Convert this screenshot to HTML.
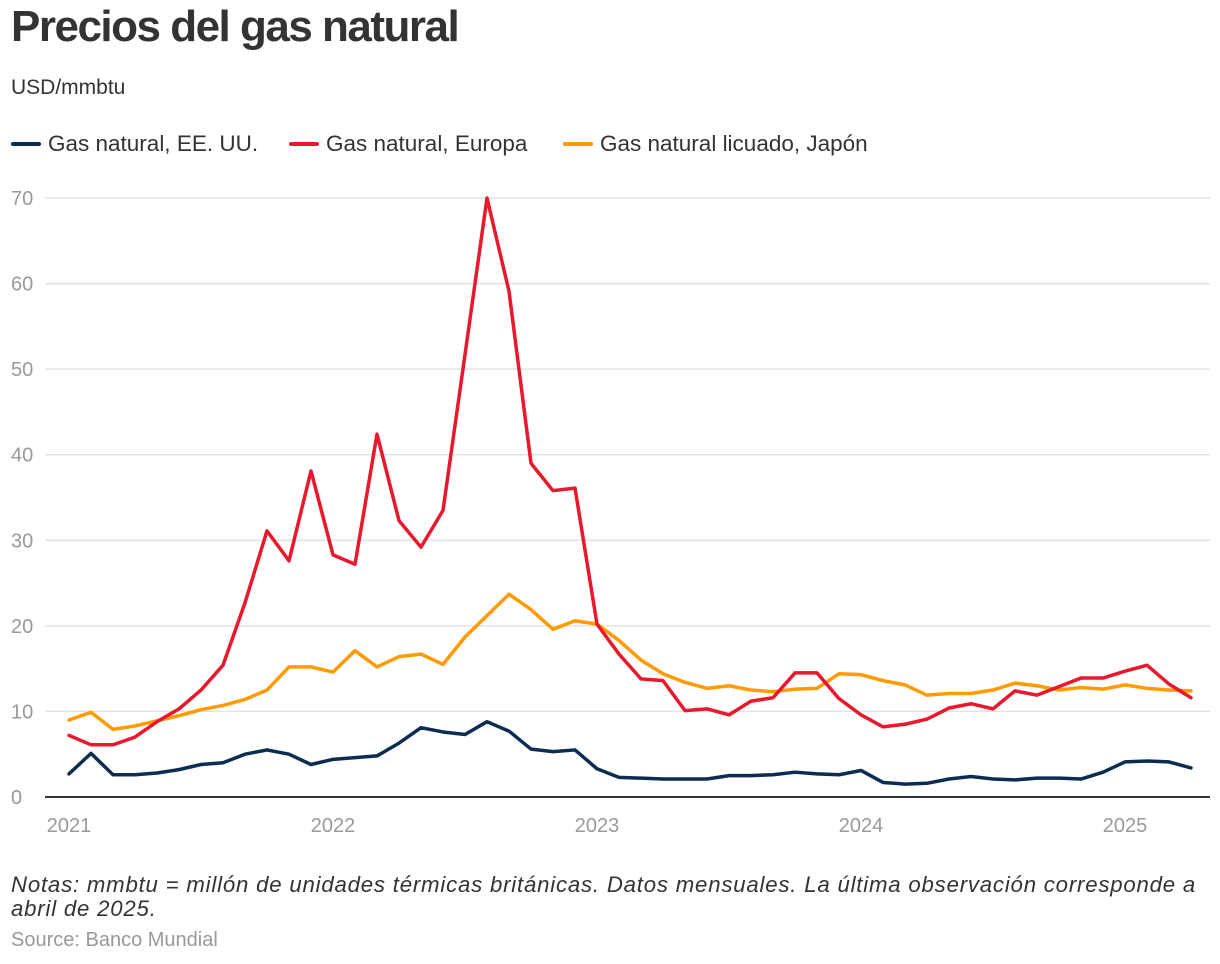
<!DOCTYPE html>
<html><head><meta charset="utf-8"><style>
body{margin:0;background:#fff;font-family:"Liberation Sans",sans-serif;}
#wrap{position:relative;width:1220px;height:964px;overflow:hidden}
h1{position:absolute;left:11px;top:2px;margin:0;font-size:44px;font-weight:bold;color:#333;letter-spacing:-1.5px}
.sub{position:absolute;left:11px;top:76px;font-size:21px;color:#333}
.legend{position:absolute;left:11px;top:131px;font-size:22.5px;color:#333}
.legend span{position:absolute;white-space:nowrap;display:flex;align-items:center}
.legend i{display:inline-block;width:30px;height:4px;margin-right:7px;border-radius:2px}
.note{position:absolute;left:11px;top:873px;font-size:22.2px;font-style:italic;color:#333;line-height:24px;white-space:nowrap;letter-spacing:0.8px}
.src{position:absolute;left:11px;top:929px;font-size:20px;color:#999}
</style></head><body><div id="wrap">
<h1>Precios del gas natural</h1>
<div class="sub">USD/mmbtu</div>
<div class="legend">
<span style="left:0"><i style="background:#0c2c52"></i>Gas natural, EE. UU.</span>
<span style="left:278px"><i style="background:#e8192c"></i>Gas natural, Europa</span>
<span style="left:552px"><i style="background:#ff9a00"></i>Gas natural licuado, Japón</span>
</div>
<svg id="plot" width="1220" height="964" style="position:absolute;left:0;top:0"></svg>
<div class="note">Notas: mmbtu = millón de unidades térmicas británicas. Datos mensuales. La última observación corresponde a<br>abril de 2025.</div>
<div class="src">Source: Banco Mundial</div>
</div>
<script>
const usValues=[2.7,5.1,2.6,2.6,2.8,3.2,3.8,4.0,5.0,5.5,5.0,3.8,4.4,4.6,4.8,6.3,8.1,7.6,7.3,8.8,7.7,5.6,5.3,5.5,3.3,2.3,2.2,2.1,2.1,2.1,2.5,2.5,2.6,2.9,2.7,2.6,3.1,1.7,1.5,1.6,2.1,2.4,2.1,2.0,2.2,2.2,2.1,2.9,4.1,4.2,4.1,3.4];
const europeValues=[7.2,6.1,6.1,7.0,8.8,10.3,12.5,15.4,22.7,31.1,27.6,38.1,28.3,27.2,42.4,32.3,29.2,33.5,51.7,70.0,59.1,39.0,35.8,36.1,20.2,16.7,13.8,13.6,10.1,10.3,9.6,11.2,11.6,14.5,14.5,11.5,9.6,8.2,8.5,9.1,10.4,10.9,10.3,12.4,11.9,12.9,13.9,13.9,14.7,15.4,13.2,11.6];
const japanValues=[9.0,9.9,7.9,8.3,8.9,9.5,10.2,10.7,11.4,12.5,15.2,15.2,14.6,17.1,15.2,16.4,16.7,15.5,18.7,21.2,23.7,21.9,19.6,20.6,20.2,18.3,16.0,14.4,13.4,12.7,13.0,12.5,12.3,12.6,12.7,14.4,14.3,13.6,13.1,11.9,12.1,12.1,12.5,13.3,13.0,12.5,12.8,12.6,13.1,12.7,12.5,12.4];
const yTicks=[0,10,20,30,40,50,60,70];
const xTickLabels=["2021","2022","2023","2024","2025"];
const NS="http://www.w3.org/2000/svg";
const svg=document.getElementById('plot');
const x=i=>69+i*22;
const y=v=>797-v*8.557;
function mk(t,a){const e=document.createElementNS(NS,t);for(const k in a)e.setAttribute(k,a[k]);svg.appendChild(e);return e;}
yTicks.forEach(t=>{
 if(t>0){const g=mk('line',{x1:45,x2:1210,y1:y(t),y2:y(t),stroke:'#e3e3e3','stroke-width':1.5});
 
 }
 const l=mk('text',{x:11,y:y(t)+7,'font-size':20,fill:'#999','font-family':'Liberation Sans, sans-serif'});
 l.textContent=t;
 
 
});
xTickLabels.forEach((s,i)=>{
 const l=mk('text',{x:x(i*12),y:832,'font-size':20,fill:'#999','text-anchor':'middle','font-family':'Liberation Sans, sans-serif'});
 l.textContent=s;
 
 
});
const ax=mk('line',{x1:45,x2:1210,y1:797,y2:797,stroke:'#333','stroke-width':2});


[[usValues,'#0c2c52','us-line'],[europeValues,'#e8192c','europe-line'],[japanValues,'#ff9a00','japan-line']].reverse().forEach(([d,c,n])=>{
 const p=mk('polyline',{points:d.map((v,i)=>x(i)+','+y(v)).join(' '),fill:'none',stroke:c,'stroke-width':3.5,'stroke-linejoin':'round','stroke-linecap':'round'});
 
 
});
</script></body></html>
